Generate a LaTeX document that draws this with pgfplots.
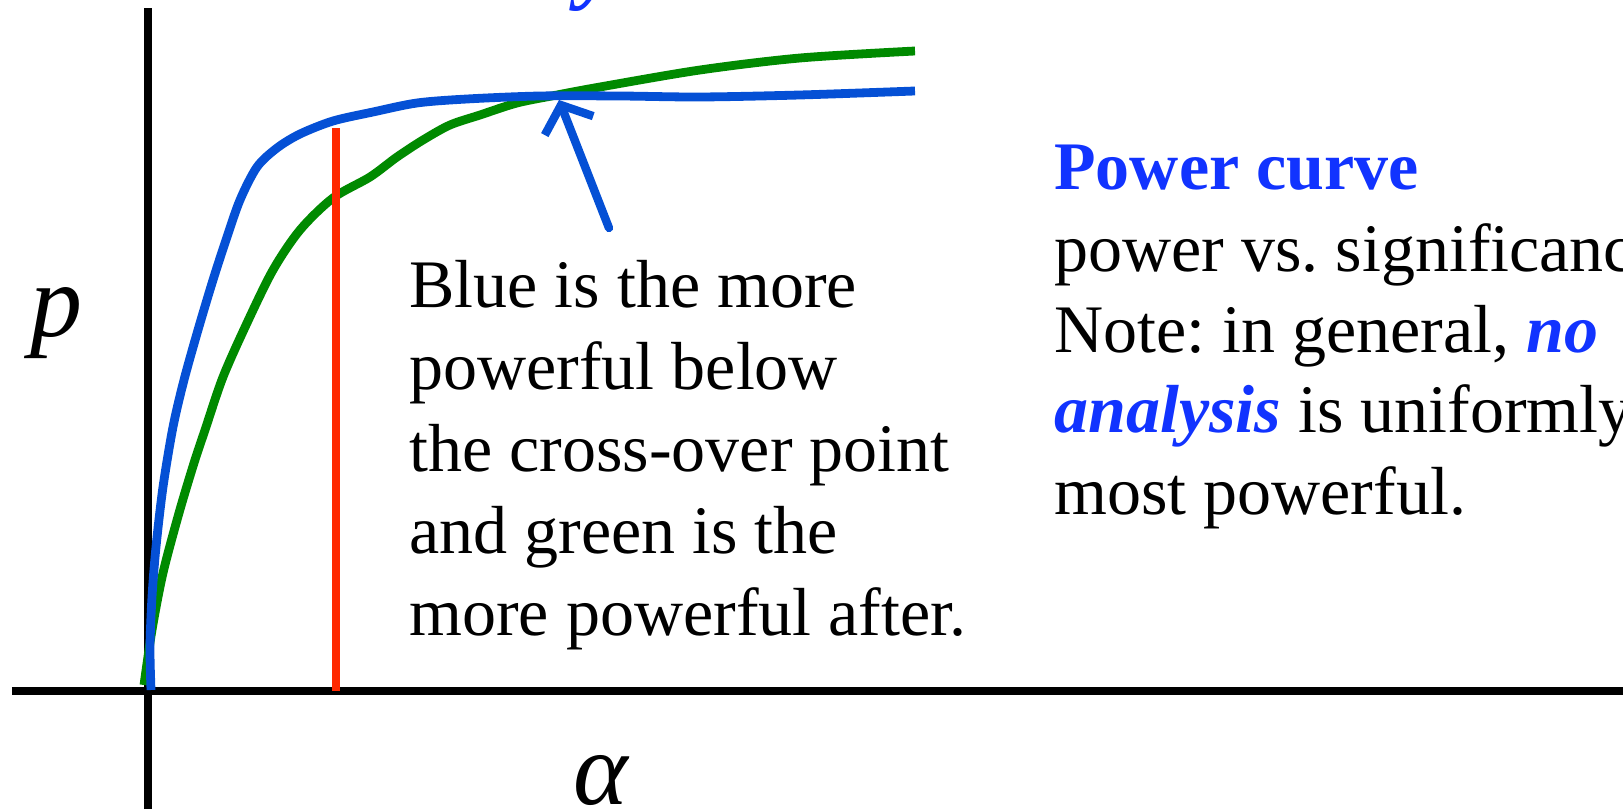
\documentclass[border=0pt]{standalone}
\usepackage{pgfplots}
\pgfplotsset{compat=1.18}
\usepackage{fontspec}
\setmainfont{Liberation Serif}
\usetikzlibrary{arrows.meta}
\frenchspacing

\definecolor{curveblue}{RGB}{5,80,213}
\definecolor{curvegreen}{RGB}{0,138,0}
\definecolor{cutred}{RGB}{255,40,0}
\definecolor{textblue}{RGB}{17,51,255}

% power curves of two analyses (alpha on x, power on y)
\pgfplotstableread{
x y
3 1
2 44
4 94
8 144
15 204
25 264
36 311
50 361
65 411
78 451
92 491
109 524
129 543
152 557
185 570
225 579
269 588
319 592
392 595
472 595
552 594
652 596
767 600
}\bluecurve

\pgfplotstableread{
x y
-4 6
4 61
15 118
31 178
46 228
57 261
75 314
99 368
125 421
152 461
185 493
222 514
249 534
275 551
302 566
332 576
369 588
409 596
452 604
552 621
652 633
767 640
}\greencurve

\begin{document}
\begin{tikzpicture}[x=0.5pt,y=0.5pt]
\useasboundingbox (0,0) rectangle (1623,809);
\clip (0,0) rectangle (1623,809);

\begin{axis}[
  at={(6pt,0pt)}, anchor=south west,
  scale only axis,
  width=805.5pt, height=400.5pt,
  xmin=-136, xmax=1475, ymin=-118, ymax=683,
  enlargelimits=false,
  axis lines*=middle,
  axis line style={-, line width=4.2pt, black},
  xtick=\empty, ytick=\empty,
  clip=false,
]
\addplot[curvegreen, line width=4.4pt, smooth, no markers] table {\greencurve};
\addplot[curveblue, line width=4.4pt, smooth, no markers] table {\bluecurve};
\addplot[cutred, line width=3.9pt, no markers] coordinates {(188,0) (188,563)};
\draw[curveblue, line width=4.2pt, line cap=round, -{Straight Barb[length=11pt,width=26pt]}]
  (axis cs:461,463) -- (axis cs:411,591);
\end{axis}

% axis names
\node[anchor=base, inner sep=0, font=\fontsize{52pt}{60pt}\selectfont\itshape] at (56,472) {p};
\node[anchor=base, inner sep=0, font=\fontsize{52pt}{60pt}\selectfont\itshape] at (601,4) {α};

% fragment of a heading above
\node[anchor=base west, inner sep=0, text=textblue, font=\fontsize{44pt}{50pt}\selectfont\bfseries\itshape] at (578,816) {y};

% annotation
\begin{scope}[every node/.style={anchor=base west, inner sep=0, font=\fontsize{34pt}{41pt}\selectfont}]
\node at (409,501) {Blue is the more};
\node at (409,419) {powerful below};
\node at (409,337) {the cross-over point};
\node at (409,255) {and green is the};
\node at (409,173) {more powerful after.};

\node at (1054,619) {\textcolor{textblue}{\bfseries Power curve}};
\node at (1054,537) {power vs. significance};
\node at (1054,456) {Note: in general, \textcolor{textblue}{\bfseries\itshape no}};
\node at (1054,376) {\textcolor{textblue}{\bfseries\itshape analysis} is uniformly};
\node at (1054,294) {most powerful.};
\end{scope}
\end{tikzpicture}
\end{document}
